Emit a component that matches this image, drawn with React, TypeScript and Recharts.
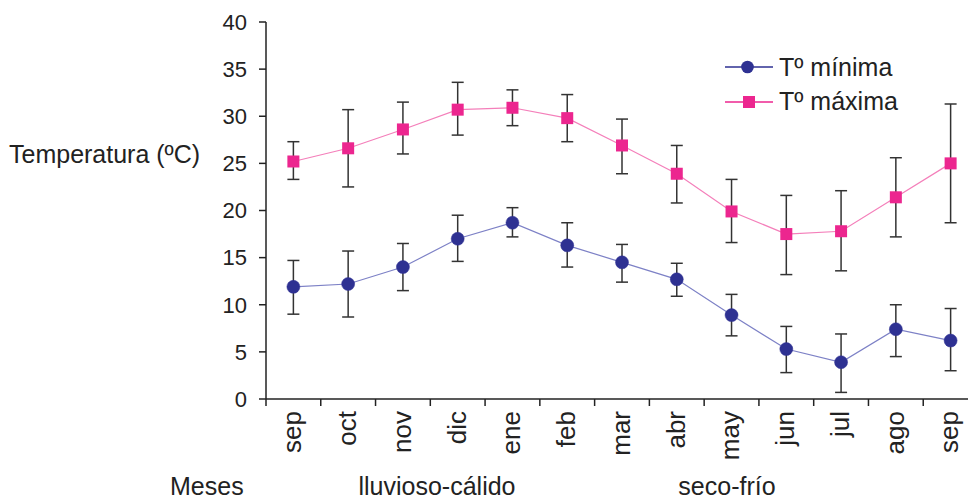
import React from 'react';
import { LineChart, Line, XAxis, YAxis, ErrorBar, Legend, Customized } from 'recharts';

const months = ['sep', 'oct', 'nov', 'dic', 'ene', 'feb', 'mar', 'abr', 'may', 'jun', 'jul', 'ago', 'sep'];
const tMin = [11.9, 12.2, 14.0, 17.0, 18.7, 16.3, 14.5, 12.7, 8.9, 5.3, 3.9, 7.4, 6.2];
const tMinLow = [9.0, 8.7, 11.5, 14.6, 17.2, 14.0, 12.4, 10.9, 6.7, 2.8, 0.7, 4.5, 3.0];
const tMinHigh = [14.7, 15.7, 16.5, 19.5, 20.3, 18.7, 16.4, 14.4, 11.1, 7.7, 6.9, 10.0, 9.6];
const tMax = [25.2, 26.6, 28.6, 30.7, 30.9, 29.8, 26.9, 23.9, 19.9, 17.5, 17.8, 21.4, 25.0];
const tMaxLow = [23.3, 22.5, 26.0, 28.0, 29.0, 27.3, 23.9, 20.8, 16.6, 13.2, 13.6, 17.2, 18.7];
const tMaxHigh = [27.3, 30.7, 31.5, 33.6, 32.8, 32.3, 29.7, 26.9, 23.3, 21.6, 22.1, 25.6, 31.3];
const yTicks = [0, 5, 10, 15, 20, 25, 30, 35, 40];

const data = months.map((m, i) => ({
  i,
  month: m,
  min: tMin[i],
  minErr: [tMin[i] - tMinLow[i], tMinHigh[i] - tMin[i]],
  max: tMax[i],
  maxErr: [tMax[i] - tMaxLow[i], tMaxHigh[i] - tMax[i]],
}));

const FONT = '"Liberation Sans", Arial, Helvetica, sans-serif';
const W = 990;
const H = 501;
const M = { top: 22, right: 12, bottom: 42, left: 206 };
const Y_W = 60;
const X_H = 60;
const PLOT_LEFT = M.left + Y_W;
const PLOT_W = W - PLOT_LEFT - M.right;
const PLOT_BOTTOM = H - M.bottom - X_H;
const STEP = PLOT_W / months.length;

const BLUE = '#2E3192';
const BLUE_LINE = '#7d81c6';
const PINK = '#EC268F';
const PINK_LINE = '#f47fba';
const INK = '#222';

const XTick = (props: any) => {
  const { x, payload } = props;
  const idx = payload.value as number;
  return (
    <g>
      <line x1={x - STEP / 2} x2={x - STEP / 2} y1={PLOT_BOTTOM} y2={PLOT_BOTTOM + 7} stroke={INK} strokeWidth={1.5} />
      {idx === months.length - 1 && (
        <line x1={x + STEP / 2} x2={x + STEP / 2} y1={PLOT_BOTTOM} y2={PLOT_BOTTOM + 7} stroke={INK} strokeWidth={1.5} />
      )}
      <text
        transform={`translate(${x},${PLOT_BOTTOM + 12}) rotate(-90)`}
        textAnchor="end"
        dy="0.3em"
        fontSize={26}
        fontFamily={FONT}
        fill={INK}
      >
        {months[idx]}
      </text>
    </g>
  );
};

const SquareDot = (props: any) => {
  const { cx, cy, index } = props;
  if (cx == null || cy == null) return null;
  return <rect key={`sq-${index}`} x={cx - 6} y={cy - 6} width={12} height={12} fill={PINK} />;
};

const LegendContent = () => (
  <svg width={220} height={75} style={{ overflow: 'visible' }}>
    <line x1={5} x2={53} y1={19} y2={19} stroke={BLUE} strokeWidth={1.5} />
    <circle cx={27.5} cy={19} r={6.3} fill={BLUE} />
    <text x={59} y={27.5} fontSize={25} fontFamily={FONT} fill={INK}>Tº mínima</text>
    <line x1={5} x2={53} y1={54} y2={54} stroke={PINK} strokeWidth={1.5} />
    <rect x={23} y={48} width={12} height={12} fill={PINK} />
    <text x={59} y={61.5} fontSize={25} fontFamily={FONT} fill={INK}>Tº máxima</text>
  </svg>
);

const Labels = () => (
  <g fontFamily={FONT} fill={INK} fontSize={25}>
    <text x={9} y={163}>Temperatura (ºC)</text>
    <text x={170} y={495}>Meses</text>
    <text x={437} y={495} textAnchor="middle">lluvioso-cálido</text>
    <text x={727} y={495} textAnchor="middle">seco-frío</text>
  </g>
);

export default function App() {
  return (
    <div style={{ position: 'absolute', left: 0, top: 0, width: 968, height: 501, overflow: 'hidden', background: '#fff' }}>
      <LineChart width={W} height={H} data={data} margin={M}>
        <XAxis
          dataKey="i"
          type="number"
          domain={[-0.5, months.length - 0.5]}
          ticks={months.map((_, i) => i)}
          interval={0}
          height={X_H}
          tickLine={false}
          axisLine={{ stroke: INK, strokeWidth: 1.5 }}
          tick={<XTick />}
        />
        <YAxis
          type="number"
          domain={[0, 40]}
          ticks={yTicks}
          interval={0}
          width={Y_W}
          tickSize={7}
          tickMargin={12}
          axisLine={{ stroke: INK, strokeWidth: 1.5 }}
          tickLine={{ stroke: INK, strokeWidth: 1.5 }}
          tick={{ fontSize: 22, fill: INK, fontFamily: FONT }}
          allowDataOverflow
        />
        <Line
          dataKey="min"
          stroke={BLUE_LINE}
          strokeWidth={1.2}
          isAnimationActive={false}
          dot={{ r: 6.5, fill: BLUE, stroke: BLUE, strokeWidth: 0.5 }}
          activeDot={false}
        >
          <ErrorBar dataKey="minErr" width={6} stroke="#333" strokeWidth={1.5} direction="y" isAnimationActive={false} />
        </Line>
        <Line
          dataKey="max"
          stroke={PINK_LINE}
          strokeWidth={1.2}
          isAnimationActive={false}
          dot={<SquareDot />}
          activeDot={false}
        >
          <ErrorBar dataKey="maxErr" width={6} stroke="#333" strokeWidth={1.5} direction="y" isAnimationActive={false} />
        </Line>
        <Legend
          layout="vertical"
          align="center"
          verticalAlign="middle"
          wrapperStyle={{ left: 720, top: 48, width: 220, height: 75 }}
          content={<LegendContent />}
        />
        <Customized component={<Labels />} />
      </LineChart>
    </div>
  );
}
